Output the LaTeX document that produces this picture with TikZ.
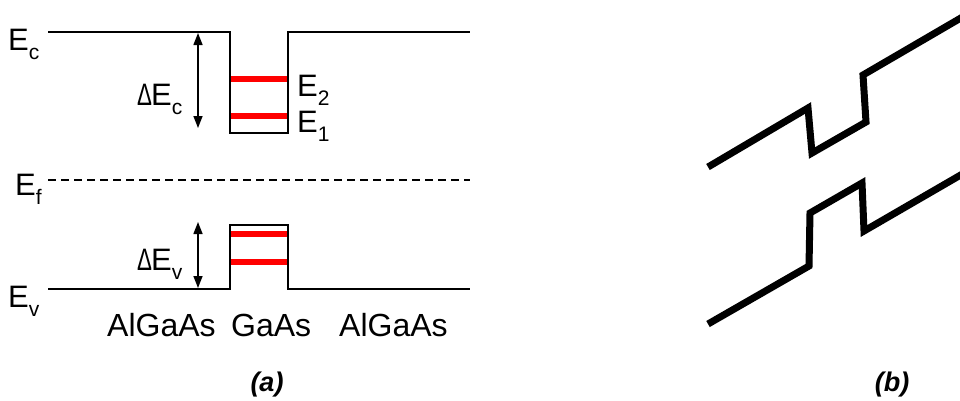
\documentclass[tikz,border=0pt]{standalone}
\usepackage{fontspec}
\setmainfont{Liberation Sans}
\usetikzlibrary{arrows.meta}
\newcommand{\sbs}[1]{\raisebox{-9pt}{\fontsize{21}{22}\selectfont #1}}
\newcommand{\dlt}{\scalebox{0.72}[1]{Δ}\kern-1pt}
\tikzset{
  band/.style={line width=2.6pt, line join=miter},
  level/.style={line width=6pt, red},
  gap/.style={line width=1.4pt, {Triangle[length=12pt,width=9pt]}-{Triangle[length=12pt,width=9pt]}},
  lbl/.style={inner sep=0pt, anchor=base west, font=\fontsize{31}{33}\selectfont},
  mat/.style={inner sep=0pt, anchor=base west, font=\fontsize{32}{34}\selectfont},
  panellbl/.style={inner sep=0pt, anchor=base, font=\fontsize{27}{29}\selectfont\bfseries\itshape},
  thickline/.style={line width=7pt, line join=miter}
}
\begin{document}
\begin{tikzpicture}[x=1pt,y=-1pt]
\useasboundingbox (0,0) rectangle (960,400);
\clip (0,0) rectangle (960,400);
% conduction band
\draw[band] (48,32) -- (230,32) -- (230,133) -- (288,133) -- (288,32) -- (470,32);
\draw[level] (231,79) -- (287,79);
\draw[level] (231,116) -- (287,116);
% Fermi level
\draw[line width=1.4pt, dash pattern=on 8pt off 5pt] (48,180) -- (470,180);
% valence band
\draw[band] (48,289) -- (230,289) -- (230,225) -- (288,225) -- (288,289) -- (470,289);
\draw[level] (231,234) -- (287,234);
\draw[level] (231,262) -- (287,262);
% offsets
\coordinate (ct) at (198,33);
\coordinate (cb) at (198,128);
\coordinate (vt) at (198,222);
\coordinate (vb) at (198,288);
\draw[gap] (ct) -- (cb);
\draw[gap] (vt) -- (vb);
% labels
\node[lbl] (Ec) at (8,50) {E\sbs{c}};
\node[lbl] (Ef) at (15,195) {E\sbs{f}};
\node[lbl] (Ev) at (8,307) {E\sbs{v}};
\node[lbl] (dEc) at (137,105) {\dlt E\sbs{c}};
\node[lbl] (dEv) at (137,270) {\dlt E\sbs{v}};
\node[lbl] (E2) at (297,96) {E\sbs{2}};
\node[lbl] (E1) at (297,132) {E\sbs{1}};
\node[mat] (m1) at (107,336) {AlGaAs};
\node[mat] (m2) at (231,336) {GaAs};
\node[mat] (m3) at (339,336) {AlGaAs};
\node[panellbl] (a) at (267,391) {(a)};
\node[panellbl] (b) at (892,391) {(b)};
% panel (b)
\draw[thickline] (708,167) -- (808,108) -- (812,153) -- (866,122) -- (863,75) -- (990,1);
\draw[thickline] (708,324) -- (809,266) -- (810,213) -- (862,183) -- (864,231) -- (990,158);
\end{tikzpicture}
\end{document}
